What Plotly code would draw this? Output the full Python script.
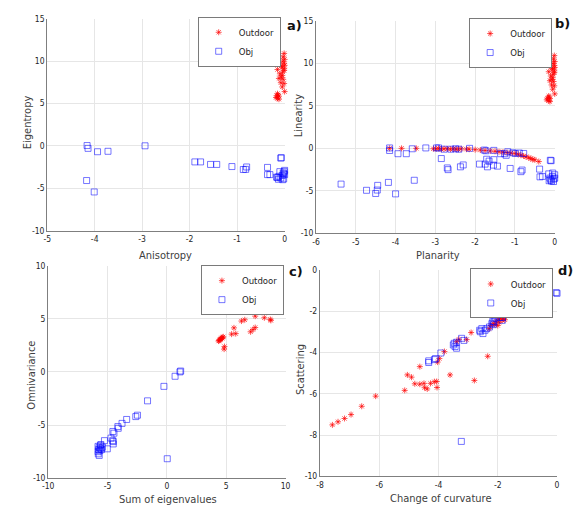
import plotly.graph_objects as go

W, H = 581, 513

# ---------------- data ----------------
# a) Anisotropy vs Eigentropy
a_obj_x = [-4.16, -4.14, -3.94, -3.72, -2.94, -4.17, -4.01, -1.89, -1.77, -1.56, -1.43, -1.11,
           -0.87, -0.80, -0.82, -0.36, -0.36, -0.31, -0.07, -0.08, -0.10, -0.01, 0.0, -0.15,
           -0.08, -0.02, -0.12, -0.05, -0.03, -0.17, -0.13, -0.04, 0.0, -0.02]
a_obj_y = [0.03, -0.3, -0.7, -0.65, 0.0, -4.1, -5.45, -1.9, -1.9, -2.2, -2.2, -2.45,
           -2.8, -2.5, -2.78, -2.55, -3.4, -3.4, -1.4, -1.45, -3.05, -3.05, -3.4, -3.75,
           -3.8, -3.9, -3.6, -3.5, -3.2, -3.7, -3.95, -4.0, -2.9, -3.3]
a_out_x = [-0.01, -0.03, 0.0, -0.04, -0.01, 0.0, -0.05, -0.01, -0.07, -0.15, -0.10, -0.05,
           -0.12, -0.03, -0.08, -0.01, -0.05, 0.0, -0.15, -0.165, -0.12, -0.15, -0.18, -0.12,
           -0.14, -0.01, -0.04, -0.07]
a_out_y = [10.9, 10.5, 10.2, 9.97, 9.75, 9.5, 9.3, 9.1, 9.4, 9.0, 8.5, 8.3,
           7.95, 7.85, 7.45, 7.35, 6.95, 6.4, 6.15, 5.9, 5.85, 5.6, 5.7, 5.5,
           6.0, 8.9, 8.7, 8.1]

# b) Planarity vs Linearity
b_obj_x = [-5.37, -4.73, -4.50, -4.46, -4.45, -4.18, -4.00, -4.15, -4.15, -3.94, -3.73, -3.58,
           -3.53, -3.24, -2.97, -2.92, -2.85, -2.78, -2.70, -2.68, -2.61, -2.49, -2.41, -2.37,
           -2.30, -2.14, -1.89, -1.75, -1.77, -1.73, -1.71, -1.65, -1.53, -1.69, -1.54, -1.44,
           -1.53, -1.36, -1.22, -1.26, -1.18, -1.12, -1.05, -0.99, -0.89, -0.85, -0.82, -0.78,
           -0.38, -0.37, -0.31, -0.11, -0.09, -0.15, -0.05, 0.0, -0.12, -0.06, -0.02, -0.14,
           -0.08, -0.03, 0.0, -0.10]
b_obj_y = [-4.2, -4.93, -5.3, -4.9, -4.35, -4.0, -5.35, 0.05, -0.25, -0.63, -0.63, -0.05,
           -3.75, 0.05, 0.05, 0.05, -1.2, -0.1, -2.3, -2.5, -0.1, -0.05, -0.1, -2.17,
           -1.95, 0.0, -1.85, -1.85, -0.2, -0.28, -1.28, -1.5, -1.33, -2.17, -1.97, -2.09,
           -0.24, -0.63, -0.82, -0.63, -0.4, -2.36, -0.52, -0.6, -0.55, -2.74, -2.55, -0.6,
           -2.44, -3.35, -3.3, -1.4, -1.45, -3.0, -2.9, -3.1, -3.5, -3.3, -3.6, -3.8,
           -3.85, -3.9, -3.5, -3.7]
b_out_x = [-4.15, -3.85, -3.48, -3.05, -2.98, -2.92, -2.85, -2.78, -2.70, -2.62, -2.55, -2.48,
           -2.42, -2.35, -2.22, -2.15, -2.00, -1.87, -1.75, -1.62, -1.50, -1.40, -1.30, -1.20,
           -1.10, -1.00, -0.92, -0.85, -0.78, -0.72, -0.65, -0.60, -0.55, -0.50, -0.40,
           -0.01, -0.03, 0.0, -0.04, -0.01, 0.0, -0.05, -0.01, -0.07, -0.15, -0.10, -0.05,
           -0.12, -0.03, -0.08, -0.01, -0.05, 0.0, -0.15, -0.18, -0.12, -0.15, -0.2, -0.12,
           -0.14, -0.01, -0.04, -0.07]
b_out_y = [0.0, 0.0, 0.0, -0.05, -0.05, 0.0, -0.1, -0.05, -0.05, -0.1, -0.05, -0.1,
           -0.1, -0.05, -0.1, -0.1, -0.15, -0.2, -0.25, -0.3, -0.35, -0.4, -0.45, -0.5,
           -0.55, -0.6, -0.7, -0.8, -0.9, -1.0, -1.1, -1.2, -1.3, -1.35, -1.55,
           10.9, 10.5, 10.2, 9.97, 9.75, 9.5, 9.3, 9.1, 9.4, 9.0, 8.5, 8.3,
           7.95, 7.85, 7.45, 7.35, 6.95, 6.4, 6.15, 5.9, 5.85, 5.6, 5.7, 5.5,
           6.0, 8.9, 8.7, 8.1]

# c) Sum of eigenvalues vs Omnivariance
c_obj_x = [1.16, 1.10, 0.69, -0.25, -1.63, -2.48, -2.62, -3.39, -3.78, -4.13, -4.10, -4.55,
           -4.46, -4.71, -4.57, -4.52, -4.52, -5.26, -5.02, -5.43, -5.56, -5.80, -5.70, -5.75,
           -5.60, -5.80, -5.65, -5.78, -5.70, -5.50, -5.60, 0.03]
c_obj_y = [0.08, 0.0, -0.41, -1.36, -2.72, -4.07, -4.2, -4.47, -4.84, -5.14, -5.3, -5.6,
           -5.76, -6.22, -6.46, -6.77, -6.55, -6.46, -7.23, -7.08, -6.83, -7.0, -7.1, -7.3,
           -7.2, -7.5, -7.4, -7.7, -7.85, -7.3, -6.9, -8.16]
c_out_x = [4.35, 4.45, 4.50, 4.55, 4.60, 4.70, 4.40, 4.65, 4.75, 4.85, 4.82, 5.45, 5.80, 5.65,
           6.28, 6.56, 7.05, 7.25, 7.44, 7.10, 7.38, 6.97, 7.44, 8.21, 8.71, 8.76, 8.07, 8.35]
c_out_y = [2.9, 3.0, 3.05, 3.1, 3.2, 3.25, 2.95, 3.15, 3.3, 2.38, 2.14, 3.55, 3.6, 4.14,
           4.78, 4.9, 3.77, 3.98, 4.17, 5.7, 5.76, 6.22, 5.24, 5.09, 4.93, 4.84, 6.22, 6.31]

# d) Change of curvature vs Scattering
d_obj_x = [-4.33, -4.33, -4.14, -4.10, -3.92, -3.50, -3.47, -3.39, -3.39, -3.44, -3.23, -3.22,
           -3.14, -2.61, -2.59, -2.54, -2.50, -2.43, -2.37, -2.28, -2.20, -2.15, -2.13, -2.17,
           -2.09, -1.93, -1.84, -1.85, -1.32, -1.21, -0.03, 0.0]
d_obj_y = [-4.49, -4.41, -4.35, -4.3, -4.03, -3.64, -3.56, -3.51, -3.8, -3.72, -8.31, -3.32,
           -3.42, -2.93, -3.0, -2.85, -3.09, -2.93, -2.85, -2.77, -2.61, -2.66, -2.53, -2.5,
           -2.34, -2.31, -2.31, -2.45, -1.9, -1.82, -1.11, -1.14]
d_out_x = [-7.58, -7.39, -7.17, -6.95, -6.59, -6.12, -5.14, -5.05, -4.91, -4.80, -4.63, -4.63,
           -4.49, -4.47, -4.38, -4.27, -4.14, -4.06, -4.05, -4.03, -3.97, -3.80, -3.61, -3.39,
           -3.31, -3.05, -2.90, -2.79, -2.34, -2.29, -2.23, -2.15, -2.05, -1.98, -1.90, -1.85,
           -1.80, -1.76, -1.95, -2.10, -1.88, -2.00]
d_out_y = [-7.51, -7.36, -7.2, -7.01, -6.61, -6.12, -5.84, -5.09, -5.2, -5.52, -4.69, -5.54,
           -5.5, -5.71, -5.77, -5.5, -5.42, -5.41, -5.7, -4.47, -4.3, -3.96, -5.09, -3.48,
           -3.37, -3.38, -3.04, -5.36, -4.19, -2.85, -2.7, -2.6, -2.5, -2.4, -2.35, -2.45,
           -2.38, -2.42, -2.55, -2.65, -2.3, -2.7]

series_names = ["Outdoor", "Obj"]
x_titles = ["Anisotropy", "Planarity", "Sum of eigenvalues", "Change of curvature"]
y_titles = ["Eigentropy", "Linearity", "Omnivariance", "Scattering"]
panel_labels = ["a)", "b)", "c)", "d)"]
x_ticks = [[-5, -4, -3, -2, -1, 0], [-6, -5, -4, -3, -2, -1, 0], [-10, -5, 0, 5, 10],
           [-8, -6, -4, -2, 0]]
y_ticks = [[-10, -5, 0, 5, 10, 15], [-10, -5, 0, 5, 10, 15], [-10, -5, 0, 5, 10],
           [-10, -8, -6, -4, -2, 0]]

panels = [
    (a_out_x, a_out_y, a_obj_x, a_obj_y),
    (b_out_x, b_out_y, b_obj_x, b_obj_y),
    (c_out_x, c_out_y, c_obj_x, c_obj_y),
    (d_out_x, d_out_y, d_obj_x, d_obj_y),
]

# ---------------- layout geometry (pixels) ----------------
boxes = [(42, 284, 14, 230), (316, 559.3, 16, 233), (43, 285, 265.7, 482.7), (320, 561.7, 270, 480.7)]
legend_boxes = [(280, 12), (556.7, 13.3), (283.3, 265.3), (557.3, 268.7)]
xtitle_pos = [(163, 255), (440, 255), (165, 504), (443, 503)]
ytitle_pos = [(22, 120), (298, 113), (26.5, 377), (300, 372)]
label_pos = [(294, 21), (567, 19), (296, 272), (570, 271)]

FONT = "DejaVu Sans Condensed, Liberation Sans, Arial"
RED = "rgba(255,0,0,0.75)"
BLUE = "rgba(0,0,255,0.6)"


def lab(v):
    return str(v)  # plain hyphen-minus, as in the original


fig = go.Figure()
layout = dict(
    width=W, height=H, margin=dict(l=0, r=0, t=0, b=0),
    paper_bgcolor="white", plot_bgcolor="rgba(0,0,0,0)",
    font=dict(family=FONT, size=9, color="#262626"),
    annotations=[],
)

for i, (ox, oy, bx, by) in enumerate(panels):
    k = "" if i == 0 else str(i + 1)
    leg = "legend" if i == 0 else "legend" + str(i + 1)
    fig.add_trace(go.Scatter(
        x=ox, y=oy, mode="markers", name=series_names[0], legend=leg, cliponaxis=False,
        xaxis="x" + k, yaxis="y" + k,
        marker=dict(symbol="asterisk-open", size=5, line=dict(color=RED, width=0.9), color=RED),
    ))
    fig.add_trace(go.Scatter(
        x=bx, y=by, mode="markers", name=series_names[1], legend=leg, cliponaxis=False,
        xaxis="x" + k, yaxis="y" + k,
        marker=dict(symbol="square-open", size=6, line=dict(color=BLUE, width=0.9), color=BLUE),
    ))
    l, r, t, b = boxes[i]
    axcommon = dict(showgrid=True, gridcolor="#e6e6e6", gridwidth=1, zeroline=False,
                    showline=True, linecolor="#7f7f7f", linewidth=1, ticks="",
                    tickfont=dict(family=FONT, size=8.5, color="#262626"), fixedrange=True,
                    tickmode="array")
    layout["xaxis" + k] = dict(axcommon, domain=[l / W, r / W],
                               range=[x_ticks[i][0], x_ticks[i][-1]],
                               tickvals=x_ticks[i], ticktext=[lab(v) for v in x_ticks[i]],
                               anchor="y" + k)
    layout["yaxis" + k] = dict(axcommon, domain=[1 - b / H, 1 - t / H],
                               range=[y_ticks[i][0], y_ticks[i][-1]],
                               tickvals=y_ticks[i], ticktext=[lab(v) for v in y_ticks[i]],
                               anchor="x" + k)
    lx, ly = legend_boxes[i]
    layout[leg] = dict(x=lx / W, y=1 - ly / H, xanchor="right", yanchor="top",
                       bgcolor="white", bordercolor="#7a7a7a", borderwidth=1,
                       font=dict(family=FONT, size=9.5, color="#262626"),
                       tracegroupgap=0, itemwidth=30)
    xt = xtitle_pos[i]
    yt = ytitle_pos[i]
    lp = label_pos[i]
    layout["annotations"] += [
        dict(text=x_titles[i], x=xt[0] / W, y=1 - xt[1] / H, xref="paper", yref="paper",
             showarrow=False, xanchor="center", yanchor="middle",
             font=dict(family=FONT, size=11, color="#404040")),
        dict(text=y_titles[i], x=yt[0] / W, y=1 - yt[1] / H, xref="paper", yref="paper",
             showarrow=False, xanchor="center", yanchor="middle", textangle=-90,
             font=dict(family=FONT, size=11, color="#404040")),
        dict(text="<b>" + panel_labels[i] + "</b>", x=lp[0] / W, y=1 - lp[1] / H,
             xref="paper", yref="paper", showarrow=False, xanchor="center", yanchor="middle",
             font=dict(family="DejaVu Sans", size=13, color="#111111")),
    ]

fig.update_layout(**layout)
fig.write_html("out.html")
